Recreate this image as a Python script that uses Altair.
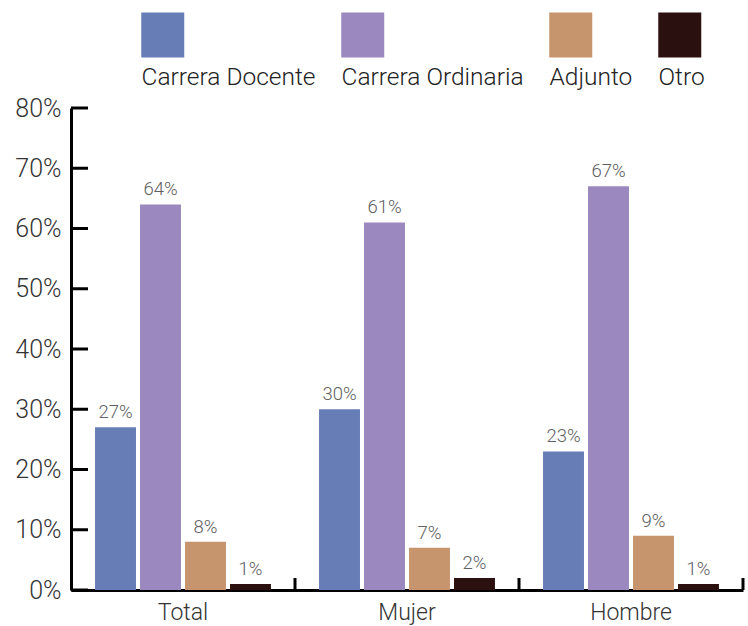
import altair as alt
import pandas as pd

grupos = ["Total", "Mujer", "Hombre"]
series = ["Carrera Docente", "Carrera Ordinaria", "Adjunto", "Otro"]
valores = {
    "Total": [0.27, 0.64, 0.08, 0.01],
    "Mujer": [0.30, 0.61, 0.07, 0.02],
    "Hombre": [0.23, 0.67, 0.09, 0.01],
}
colores = ["#667db5", "#9a88be", "#c6956d", "#2b1010"]
y_ticks = [0, 0.1, 0.2, 0.3, 0.4, 0.5, 0.6, 0.7, 0.8]

rows = []
for g in grupos:
    for s, v in zip(series, valores[g]):
        rows.append({"grupo": g, "serie": s, "valor": v})
df = pd.DataFrame(rows)

FONT = "Roboto"
W, H = 672, 482

x_enc = alt.X("grupo:N", sort=grupos,
              scale=alt.Scale(paddingInner=0, paddingOuter=0),
              axis=alt.Axis(title=None, labelAngle=0, ticks=False, domain=True,
                            domainColor="black", domainWidth=3,
                            labelFontSize=23, labelColor="#333333",
                            labelFont=FONT, labelFontWeight=300, labelPadding=11))
xoff_enc = alt.XOffset("serie:N", sort=series,
                       scale=alt.Scale(paddingInner=0.09, paddingOuter=0.534))
y_enc = alt.Y("valor:Q", scale=alt.Scale(domain=[0, 0.8], nice=False),
              axis=alt.Axis(title=None, values=y_ticks, format=".0%", ticks=False,
                            grid=False, domainColor="black", domainWidth=3,
                            labelFontSize=25, labelColor="#333333",
                            labelFont=FONT, labelFontWeight=300, labelPadding=10))

color_enc = alt.Color(
    "serie:N", sort=series,
    scale=alt.Scale(domain=series, range=colores),
    legend=alt.Legend(
        title=None, orient="none", direction="horizontal",
        legendX=46, legendY=-54,
        symbolType="M12,-54H55V-9H12Z", symbolSize=4,
        symbolStrokeWidth=0, symbolOpacity=1,
        labelOffset=0, labelBaseline="top",
        labelFontSize=24.5, labelFont=FONT, labelFontWeight=300,
        labelColor="#222222", columnPadding=1, labelLimit=400,
    ),
)

base = alt.Chart(df)

bars = base.mark_bar().encode(x=x_enc, xOffset=xoff_enc, y=y_enc, color=color_enc)

labels = base.mark_text(baseline="bottom", dy=-5, fontSize=18.5, color="#606060",
                        font=FONT, fontWeight=300).encode(
    x=alt.X("grupo:N", sort=grupos), xOffset=alt.XOffset("serie:N", sort=series),
    y="valor:Q", text=alt.Text("valor:Q", format=".0%"))

yt = alt.Chart(pd.DataFrame({"valor": y_ticks})).mark_rule(
    color="black", strokeWidth=3).encode(
    y="valor:Q", x=alt.value(0), x2=alt.value(17))

xt = alt.Chart(pd.DataFrame({"grupo": grupos})).mark_rule(
    color="black", strokeWidth=3).encode(
    x=alt.X("grupo:N", sort=grupos, bandPosition=1),
    y=alt.value(H), y2=alt.value(H - 12))

chart = alt.layer(bars, labels, yt, xt).properties(
    width=W, height=H, autosize="none",
    padding={"left": 71, "top": 108, "right": 5, "bottom": 36},
).configure_view(stroke=None)

chart.save("out.html", embed_options={"renderer": "svg", "actions": False})
